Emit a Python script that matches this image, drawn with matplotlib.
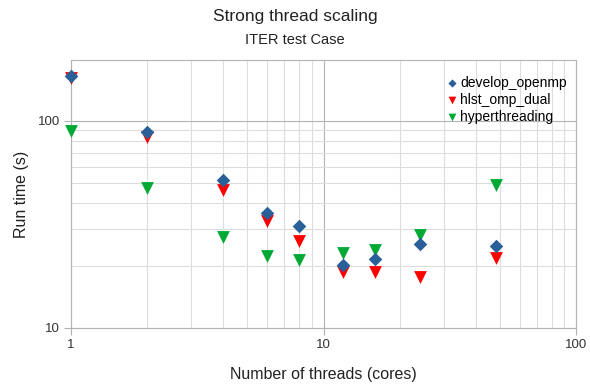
import matplotlib
matplotlib.use("Agg")
import matplotlib.pyplot as plt
from matplotlib.ticker import LogLocator, FixedLocator, FixedFormatter, NullFormatter

plt.rcParams['font.family'] = ['Liberation Sans', 'DejaVu Sans']

threads = [1, 2, 4, 6, 8, 12, 16, 24, 48]
develop_openmp = [165, 88.5, 51.9, 35.8, 31.2, 20.1, 21.5, 25.4, 25.0]
hlst_omp_dual = [162, 84, 46.4, 33.0, 26.4, 18.7, 18.6, 17.6, 21.9]
hyperthreading = [89, 47.6, 27.6, 22.3, 21.3, 23.0, 23.8, 28.1, 49.1]

series_names = ["develop_openmp", "hlst_omp_dual", "hyperthreading"]
x_ticks = [1, 10, 100]
x_tick_labels = ["1", "10", "100"]
y_ticks = [10, 100]
y_tick_labels = ["10", "100"]

fig = plt.figure(figsize=(5.9, 3.85), dpi=100)
ax = fig.add_axes([71/590, 1-328/385, (576-71)/590, (328-60)/385])

ax.set_xscale('log')
ax.set_yscale('log')
ax.set_xlim(1, 100)
ax.set_ylim(10, 197)

minor_grid = '#dddddd'
major_grid = '#b3b3b3'
ax.xaxis.set_minor_locator(LogLocator(base=10, subs=range(2, 10)))
ax.yaxis.set_minor_locator(LogLocator(base=10, subs=range(2, 10)))
ax.xaxis.set_minor_formatter(NullFormatter())
ax.yaxis.set_minor_formatter(NullFormatter())
ax.xaxis.set_major_locator(FixedLocator(x_ticks))
ax.xaxis.set_major_formatter(FixedFormatter(x_tick_labels))
ax.yaxis.set_major_locator(FixedLocator(y_ticks))
ax.yaxis.set_major_formatter(FixedFormatter(y_tick_labels))

ax.grid(True, which='minor', color=minor_grid, linewidth=0.8)
ax.grid(True, which='major', color=major_grid, linewidth=0.8)
ax.set_axisbelow(True)
ax.tick_params(which='minor', length=0)
ax.tick_params(which='major', length=5, color=major_grid, width=0.8,
               labelsize=9.5, labelcolor='#333333', pad=3)
for s in ax.spines.values():
    s.set_color(major_grid)
    s.set_linewidth(0.8)

ax.scatter(threads, hyperthreading, marker='v', s=85, color='#00a933', label=series_names[2],
           zorder=3, linewidths=0, clip_on=False)
ax.scatter(threads, hlst_omp_dual, marker='v', s=85, color='#ff0000', label=series_names[1],
           zorder=4, linewidths=0, clip_on=False)
ax.scatter(threads, develop_openmp, marker='D', s=48, color='#2a6099', label=series_names[0],
           zorder=5, linewidths=0, clip_on=False)

h, l = ax.get_legend_handles_labels()
order = [2, 1, 0]
leg = ax.legend([h[i] for i in order], [l[i] for i in order], loc='upper left',
                bbox_to_anchor=(445/590, 1-76/385), bbox_transform=fig.transFigure,
                frameon=False, fontsize=10, handletextpad=0.1, labelspacing=0.22,
                markerscale=0.6, borderaxespad=0, borderpad=0, handlelength=1.0)

fig.text(0.5, 1-16/385, "Strong thread scaling", ha='center', va='center', fontsize=12.5, color='#222222')
fig.text(0.5, 1-40/385, "ITER test Case", ha='center', va='center', fontsize=10.5, color='#222222')
fig.text(323/590, 1-375/385, "Number of threads (cores)", ha='center', va='center', fontsize=11.5, color='#222222')
fig.text(22/590, 1-194/385, "Run time (s)", ha='center', va='center', rotation=90, fontsize=11.5, color='#222222')

fig.savefig("out.png", dpi=100)
